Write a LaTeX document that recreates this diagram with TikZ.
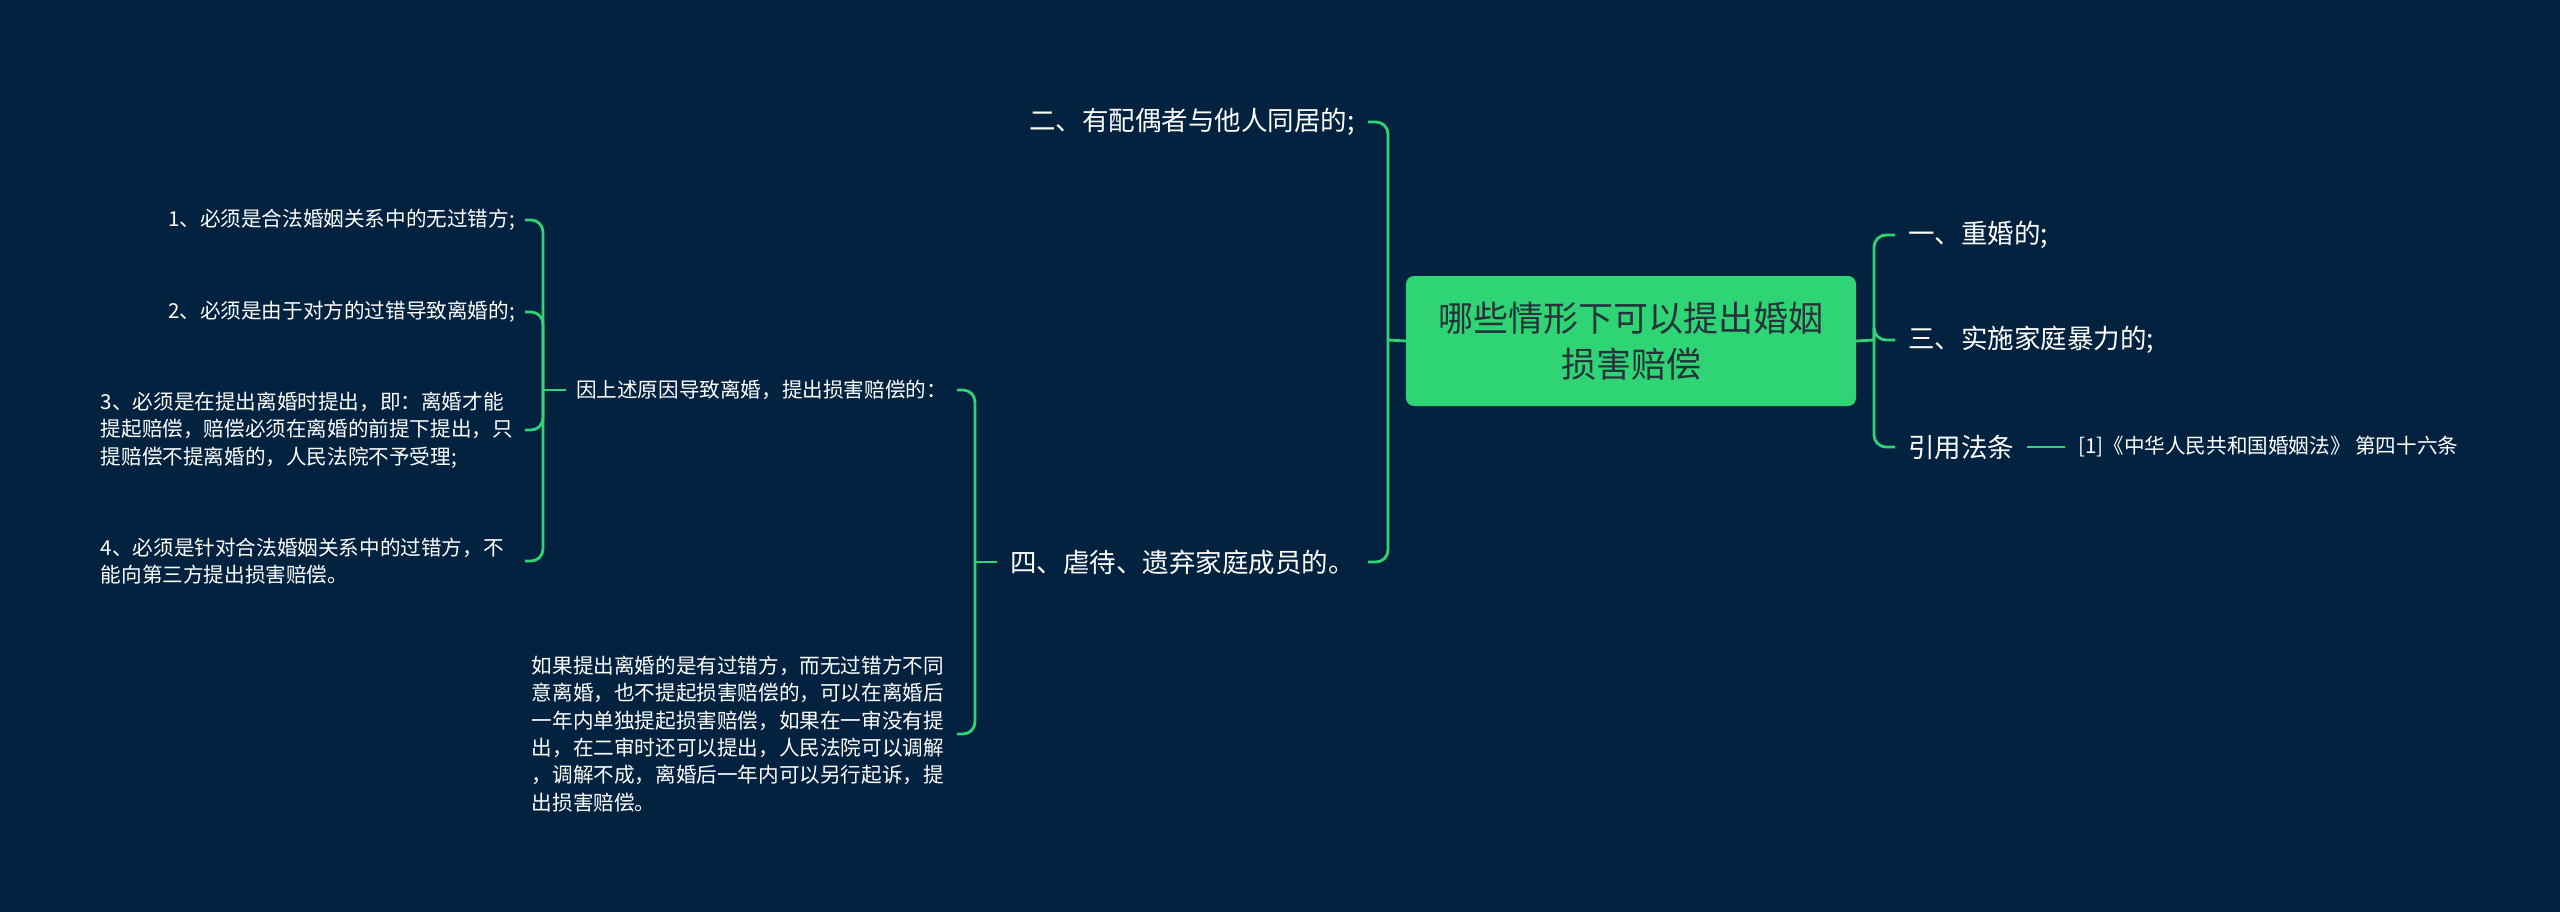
\documentclass[tikz,border=0pt]{standalone}
\usepackage{fontspec}
\setmainfont{Noto Sans CJK SC}
\definecolor{bg}{HTML}{02223F}
\definecolor{gr}{HTML}{2FD575}
\definecolor{rootText}{HTML}{24343A}
\tikzset{
 conn/.style={draw=gr, line width=2.8pt, rounded corners=12pt},
 stub/.style={draw=gr, line width=2.8pt},
 rootbox/.style={fill=gr, rounded corners=8pt, minimum width=450pt, minimum height=130pt, align=center, text=rootText, font=\fontsize{35}{46}\selectfont},
 big/.style={text=white, font=\fontsize{26.5}{32}\selectfont, inner xsep=13pt, inner ysep=4pt},
 small/.style={text=white, font=\fontsize{20.6}{27.4}\selectfont, inner xsep=10pt, inner ysep=4pt, align=left},
 para/.style={small, text width=414pt},
}
\begin{document}
\begin{tikzpicture}[x=1pt,y=-1pt]
\fill[bg] (0,0) rectangle (2560,912);
\useasboundingbox (0,0) rectangle (2560,912);

\node[rootbox] (root) at (1631,341) {哪些情形下可以提出婚姻\\损害赔偿};

% right side
\node[big, anchor=west] (r1) at (1895,235) {一、重婚的;};
\node[big, anchor=west] (r3) at (1895,340) {三、实施家庭暴力的;};
\node[big, anchor=west] (law) at (1895,447) {引用法条};
\node[small, anchor=west, inner xsep=13pt] (ref) at (2065,447) {[1]《中华人民共和国婚姻法》 第四十六条};
\coordinate (rv) at (1874,340);
\draw[stub] (root.east) -- (rv);
\draw[conn] (rv) |- (r1.west);
\draw[conn] (rv) |- (r3.west);
\draw[conn] (rv) |- (law.west);
\draw[stub] (law.east) -- (ref.west);

% left side
\node[big, anchor=east] (n2) at (1368,122) {二、有配偶者与他人同居的;};
\node[big, anchor=east] (n4) at (1368,562) {四、虐待、遗弃家庭成员的。};
\coordinate (lv) at (1388,340);
\draw[stub] (root.west) -- (lv);
\draw[conn] (lv) |- (n2.east);
\draw[conn] (lv) |- (n4.east);

% children of n4
\node[small, anchor=east] (a) at (957,390) {因上述原因导致离婚，提出损害赔偿的：};
\node[para, anchor=east, inner xsep=12pt, text width=413pt] (b) at (957,734) {如果提出离婚的是有过错方，而无过错方不同\\意离婚，也不提起损害赔偿的，可以在离婚后\\一年内单独提起损害赔偿，如果在一审没有提\\出，在二审时还可以提出，人民法院可以调解\\，调解不成，离婚后一年内可以另行起诉，提\\出损害赔偿。};
\coordinate (v4) at (975,562);
\draw[stub] (n4.west) -- (v4);
\draw[conn] (v4) |- (a.east);
\draw[conn] (v4) |- (b.east);

% children of a
\node[small, anchor=east] (i1) at (525,220) {1、必须是合法婚姻关系中的无过错方;};
\node[small, anchor=east] (i2) at (525,312) {2、必须是由于对方的过错导致离婚的;};
\node[para, anchor=east] (i3) at (525,430) {3、必须是在提出离婚时提出，即：离婚才能\\提起赔偿，赔偿必须在离婚的前提下提出，只\\提赔偿不提离婚的，人民法院不予受理;};
\node[para, anchor=east] (i4) at (525,561) {4、必须是针对合法婚姻关系中的过错方，不\\能向第三方提出损害赔偿。};
\coordinate (va) at (543,390);
\draw[stub] (a.west) -- (va);
\draw[conn] (va) |- (i1.east);
\draw[conn] (va) |- (i2.east);
\draw[conn] (va) |- (i3.east);
\draw[conn] (va) |- (i4.east);
\end{tikzpicture}
\end{document}
